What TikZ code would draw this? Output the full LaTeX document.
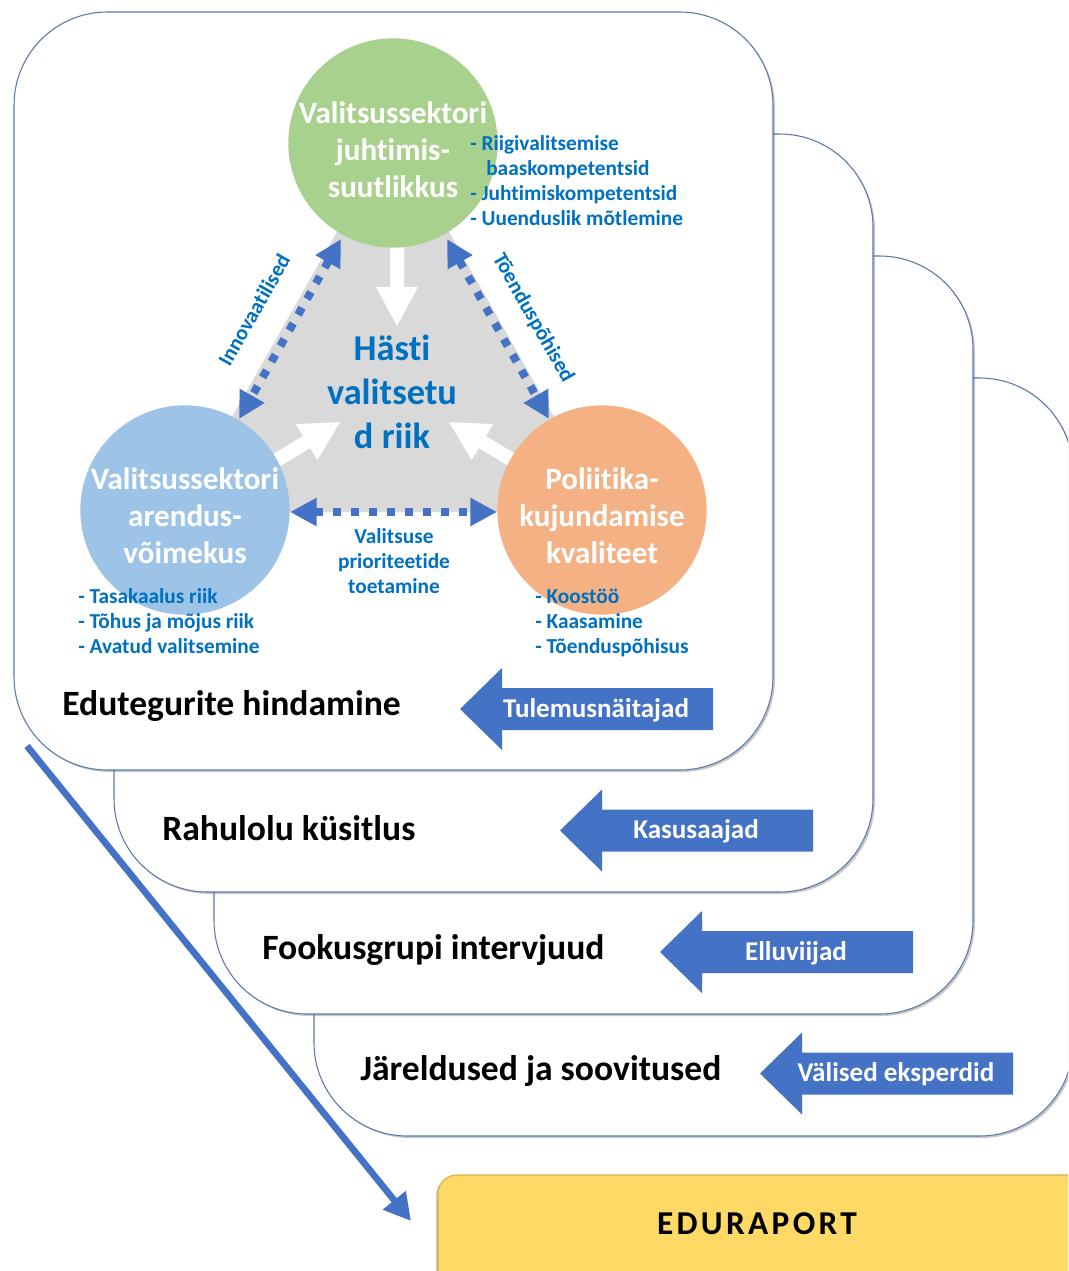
\documentclass[tikz,border=0pt]{standalone}
\usepackage{fontspec}
\setmainfont{Carlito}[Ligatures={NoCommon}]
\usetikzlibrary{shadows,arrows.meta}
\definecolor{gcirc}{HTML}{A9D18E}
\definecolor{bcirc}{HTML}{9DC3E6}
\definecolor{ocirc}{HTML}{F4B183}
\definecolor{txtblue}{HTML}{0070C0}
\definecolor{arrblue}{HTML}{4472C4}
\definecolor{cardline}{HTML}{5A79A8}
\definecolor{trigray}{HTML}{D9D9D9}
\definecolor{yellowbox}{HTML}{FFD966}
\definecolor{yellowline}{HTML}{D6B04A}
\tikzset{
  card/.style={draw=cardline, line width=0.8pt, fill=white, rounded corners=70pt,
    drop shadow={shadow xshift=1.5pt, shadow yshift=-1.5pt, opacity=0.3, fill=black!70}},
  cardlabel/.style={inner sep=0pt, anchor=west, font=\bfseries\fontsize{26.7}{30}\selectfont, text=black},
  arrtext/.style={inner sep=0pt, font=\bfseries\fontsize{20.3}{24}\selectfont, text=white},
  bigcirc/.style={circle, inner sep=0pt, minimum size=157pt, align=center, text=white,
    font=\bfseries\fontsize{23.3}{27.75}\selectfont},
  bullets/.style={inner sep=0pt, anchor=west, align=left, text=txtblue,
    font=\bfseries\fontsize{16}{18.75}\selectfont},
  dotarrow/.style={draw=arrblue, line width=6pt, dash pattern=on 6pt off 7.5pt,
    {Triangle[width=20pt,length=20pt]}-{Triangle[width=20pt,length=20pt]}},
  whitearrow/.style={fill=white},
  sidelabel/.style={inner sep=0pt, text=txtblue, font=\bfseries\fontsize{16}{18}\selectfont},
}
\begin{document}
\begin{tikzpicture}[x=0.75pt,y=-0.75pt]
\useasboundingbox (0,0) rectangle (1068,1271);
\clip (0,0) rectangle (1068,1271);
% cards, back to front
\foreach \k in {3,2,1,0} {
  \draw[card] ({14+100*\k},{12+122*\k}) rectangle ++(759,758);
}
% gray triangle
\fill[trigray] (393,133) -- (178,512) -- (608,512) -- cycle;
% white arrows
\fill[whitearrow] (390,230) -- (404,230) -- (404,287) -- (418,287) -- (397,326) -- (376,287) -- (390,287) -- cycle;
\begin{scope}[shift={(340,422)}, rotate=31]
  \fill[whitearrow] (0,0) -- (-39,21) -- (-39,7) -- (-95,7) -- (-95,-7) -- (-39,-7) -- (-39,-21) -- cycle;
\end{scope}
\begin{scope}[shift={(449,422)}, rotate=149]
  \fill[whitearrow] (0,0) -- (-39,21) -- (-39,7) -- (-95,7) -- (-95,-7) -- (-39,-7) -- (-39,-21) -- cycle;
\end{scope}
% dotted arrows
\coordinate (L1) at (341,239); \coordinate (L2) at (239,419);
\coordinate (R1) at (447,239); \coordinate (R2) at (549,419);
\coordinate (H1) at (290,512); \coordinate (H2) at (497,512);
\draw[dotarrow] (L1) -- (L2);
\draw[dotarrow] (R1) -- (R2);
\draw[dotarrow] (H1) -- (H2);
% circles
\node[bigcirc, fill=gcirc] (green) at (393,143) {};
\node[bigcirc, fill=bcirc] (blue) at (185,510) {};
\node[bigcirc, fill=ocirc] (orange) at (602,510) {};
\node[bigcirc, minimum size=0pt] (greentxt) at (393,150) {Valitsussektori\\juhtimis-\\suutlikkus};
\node[bigcirc, minimum size=0pt] (bluetxt) at (185,516) {Valitsussektori\\arendus-\\võimekus};
\node[bigcirc, minimum size=0pt] (orangetxt) at (602,516) {Poliitika-\\kujundamise\\kvaliteet};
% center text
\node[inner sep=0pt, align=center, text=txtblue, font=\bfseries\fontsize{27.3}{33}\selectfont] (center) at (392,392) {Hästi\\valitsetu\\d riik};
% bullet lists
\node[bullets] (glist) at (470,181) {- Riigivalitsemise\\\hspace*{0.75em}baaskompetentsid\\- Juhtimiskompetentsid\\- Uuenduslik mõtlemine};
\node[bullets] (blist) at (78,621) {- Tasakaalus riik\\- Tõhus ja mõjus riik\\- Avatud valitsemine};
\node[bullets] (olist) at (535,623) {- Koostöö\\- Kaasamine\\- Tõenduspõhisus};
\node[bullets, anchor=center, align=center] (hlabel) at (394,561) {Valitsuse\\prioriteetide\\toetamine};
% rotated side labels
\node[sidelabel, rotate=60.5] (innov) at (254,310) {Innovaatilised};
\node[sidelabel, rotate=-60.5] (toend) at (533,318) {Tõenduspõhised};
% card labels
\node[cardlabel] (lab1) at (62,706) {Edutegurite hindamine};
\node[cardlabel] (lab2) at (162,828) {Rahulolu küsitlus};
\node[cardlabel] (lab3) at (262,950) {Fookusgrupi intervjuud};
\node[cardlabel] (lab4) at (360,1071) {Järeldused ja soovitused};
% block arrows
\foreach \k/\t in {0/Tulemusnäitajad,1/Kasusaajad,2/Elluviijad,3/Välised eksperdid} {
  \fill[arrblue] ({460+100*\k},{709+121.5*\k}) -- ++(42,-41) -- ++(0,20) -- ++(211,0) -- ++(0,42) -- ++(-211,0) -- ++(0,20) -- cycle;
  \node[arrtext] (atxt\k) at ({596+100*\k},{710+121.5*\k}) {\t};
}
% report box
\draw[draw=yellowline, line width=0.8pt, fill=yellowbox, rounded corners=14pt,
  drop shadow={shadow xshift=-1.5pt, shadow yshift=-1.5pt, opacity=0.3, fill=black!70}] (438,1175) rectangle (1110,1320);
\node[inner sep=0pt, font=\bfseries\fontsize{25}{28}\selectfont\addfontfeatures{LetterSpace=10}, text=black] (report) at (757,1224) {EDURAPORT};
% diagonal arrow
\coordinate (dstart) at (27,746);
\coordinate (dend) at (411,1221);
\draw[draw=arrblue, line width=5pt, -{Triangle[width=21pt,length=20pt]}] (dstart) -- (dend);
\end{tikzpicture}
\end{document}
